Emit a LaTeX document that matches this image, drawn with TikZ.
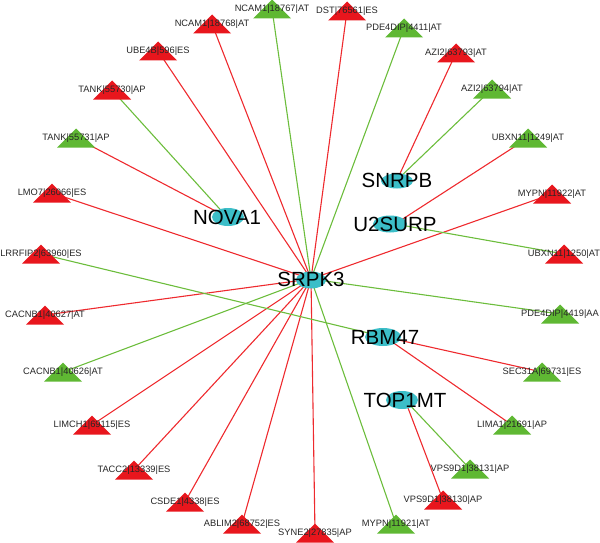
\documentclass[tikz,border=0pt]{standalone}
\usepackage{fontspec}
\setmainfont{Liberation Sans}
\definecolor{tred}{HTML}{E8161D}
\definecolor{tgreen}{HTML}{5FB833}
\definecolor{ered}{HTML}{EE2A2E}
\definecolor{egreen}{HTML}{6CBD3C}
\definecolor{hub}{HTML}{3CBEC8}
\pgfdeclarelayer{bg}
\pgfdeclarelayer{mid}
\pgfsetlayers{bg,mid,main}
\tikzset{
  lab/.style={inner sep=0pt, text=black!85, font=\fontsize{9.3}{11}\selectfont},
  hublab/.style={inner sep=0pt, text=black, font=\fontsize{20.5}{24}\selectfont},
  redge/.style={draw=ered, line width=1.1pt},
  gedge/.style={draw=egreen, line width=1.1pt},
}
\newcommand{\tri}[2]{\fill[#1] ([shift={(-19pt,-9.5pt)}]#2.center) -- ([shift={(19pt,-9.5pt)}]#2.center) -- ([shift={(0pt,9.5pt)}]#2.center) -- cycle;}
\newcommand{\hubell}[1]{\fill[hub] (#1.center) ellipse (17pt and 9pt);}
\begin{document}
\begin{tikzpicture}[x=1pt,y=-1pt]
\useasboundingbox (0,0) rectangle (600,543);
% hubs
\node[hublab] (srpk) at (311,279) {SRPK3};
\node[hublab] (nova) at (227,217) {NOVA1};
\node[hublab] (snrpb) at (397,180) {SNRPB};
\node[hublab] (u2surp) at (395,224) {U2SURP};
\node[hublab] (rbm) at (385,337) {RBM47};
\node[hublab] (top) at (405,400) {TOP1MT};
% red leaves
\node[lab] (ncamB) at (212,24) {NCAM1|18768|AT};
\node[lab] (ube) at (158,51) {UBE4B|596|ES};
\node[lab] (tankA) at (112,90) {TANK|55730|AP};
\node[lab] (lmo) at (52,193) {LMO7|26066|ES};
\node[lab] (lrr) at (41,254) {LRRFIP2|63960|ES};
\node[lab] (cacB) at (45,315) {CACNB1|40627|AT};
\node[lab] (limch) at (92,425) {LIMCH1|69115|ES};
\node[lab] (tacc) at (134,470) {TACC2|13339|ES};
\node[lab] (csde) at (185,502) {CSDE1|4338|ES};
\node[lab] (ablim) at (242,524) {ABLIM2|68752|ES};
\node[lab] (syne) at (315,533) {SYNE2|27835|AP};
\node[lab] (vpsA) at (443,500) {VPS9D1|38130|AP};
\node[lab] (ubxB) at (564,254) {UBXN11|1250|AT};
\node[lab] (mypB) at (552,194) {MYPN|11922|AT};
\node[lab] (aziA) at (456,53) {AZI2|63793|AT};
\node[lab] (dst) at (347,11) {DST|76561|ES};
% green leaves
\node[lab] (ncamA) at (272,9) {NCAM1|18767|AT};
\node[lab] (pdeA) at (404,28) {PDE4DIP|4411|AT};
\node[lab] (aziB) at (492,89) {AZI2|63794|AT};
\node[lab] (ubxA) at (528,138) {UBXN11|1249|AT};
\node[lab] (pdeB) at (560,314) {PDE4DIP|4419|AA};
\node[lab] (sec) at (542,372) {SEC31A|69731|ES};
\node[lab] (lima) at (512,425) {LIMA1|21691|AP};
\node[lab] (vpsB) at (470,469) {VPS9D1|38131|AP};
\node[lab] (mypA) at (396,524) {MYPN|11921|AT};
\node[lab] (cacA) at (63,372) {CACNB1|40626|AT};
\node[lab] (tankB) at (76,138) {TANK|55731|AP};
\begin{pgfonlayer}{mid}
\foreach \n in {ncamB,ube,tankA,lmo,lrr,cacB,limch,tacc,csde,ablim,syne,vpsA,ubxB,mypB,aziA,dst} {\tri{tred}{\n}}
\foreach \n in {ncamA,pdeA,aziB,ubxA,pdeB,sec,lima,vpsB,mypA,cacA,tankB} {\tri{tgreen}{\n}}
\fill[hub] (311,280) ellipse (15pt and 8.5pt);
\fill[hub] (228,217) ellipse (16pt and 9pt);
\fill[hub] (397,181) ellipse (16pt and 7.5pt);
\fill[hub] (390,224) ellipse (17pt and 8.5pt);
\fill[hub] (383,337) ellipse (18pt and 9pt);
\fill[hub] (402,400) ellipse (16pt and 9pt);
\end{pgfonlayer}
\begin{pgfonlayer}{bg}
\foreach \n in {ncamB,ube,dst,mypB,lmo,cacB,limch,tacc,csde,ablim,syne} {\draw[redge] (srpk.center) -- (\n.center);}
\foreach \n in {ncamA,pdeA,pdeB,cacA,mypA} {\draw[gedge] (srpk.center) -- (\n.center);}
\draw[gedge] (nova.center) -- (tankA.center);
\draw[redge] (nova.center) -- (tankB.center);
\draw[redge] (snrpb.center) -- (aziA.center);
\draw[gedge] (snrpb.center) -- (aziB.center);
\draw[redge] (u2surp.center) -- (ubxA.center);
\draw[gedge] (u2surp.center) -- (ubxB.center);
\draw[gedge] (rbm.center) -- (lrr.center);
\draw[redge] (rbm.center) -- (sec.center);
\draw[redge] (rbm.center) -- (lima.center);
\draw[gedge] (top.center) -- (vpsB.center);
\draw[redge] (top.center) -- (vpsA.center);
\end{pgfonlayer}
\end{tikzpicture}
\end{document}
